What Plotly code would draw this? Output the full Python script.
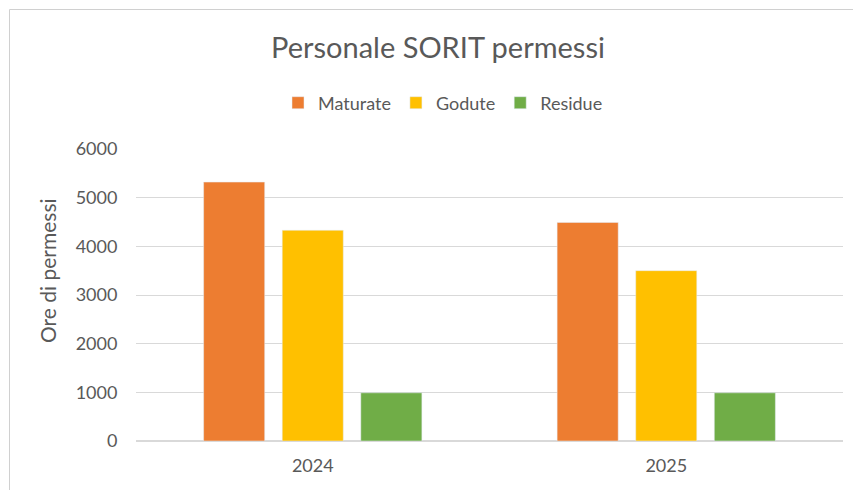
import plotly.graph_objects as go

years = ["2024", "2025"]
maturate = [5320, 4490]
godute = [4330, 3500]
residue = [990, 990]
y_ticks = [0, 1000, 2000, 3000, 4000, 5000, 6000]

# page body offset of the figure (default 8px body margin)
OFF = 8
W, H = 861, 490
# screen-pixel targets
plot_l, plot_r, plot_t, plot_b = 136, 843, 149, 441
ml = plot_l - OFF
mt = plot_t - OFF
mr = W - (plot_r - OFF)
mb = H - (plot_b - OFF)
pw = plot_r - plot_l
ph = plot_b - plot_t

def px(xs):
    return (xs - plot_l) / pw

def py(ys):
    return (plot_b - ys) / ph

FONT = "Lato, Calibri, sans-serif"
GRAY = "#595959"

fig = go.Figure()
fig.add_trace(go.Bar(name="Maturate", x=years, y=maturate, marker_color="#ED7D31"))
fig.add_trace(go.Bar(name="Godute", x=years, y=godute, marker_color="#FFC000"))
fig.add_trace(go.Bar(name="Residue", x=years, y=residue, marker_color="#70AD47"))

fig.update_layout(
    width=W, height=H,
    margin=dict(l=ml, r=mr, t=mt, b=mb),
    paper_bgcolor="white", plot_bgcolor="white",
    barmode="group", bargap=0.333, bargroupgap=0.223,
    font=dict(family=FONT, color=GRAY),
    title=dict(text="Personale SORIT permessi", x=(438 - OFF) / W, xanchor="center",
               y=1 - (48 - OFF) / H, yanchor="middle", font=dict(size=29, color=GRAY, family=FONT)),
    legend=dict(orientation="h", x=px(443), xanchor="center", y=py(103), yanchor="middle",
                font=dict(size=18, color=GRAY, family=FONT), itemwidth=30,
                traceorder="normal"),
    xaxis=dict(showgrid=False, showline=True, linecolor="#d9d9d9", linewidth=1,
               tickfont=dict(size=18, color=GRAY), ticks="outside", ticklen=8, tickcolor="white"),
    yaxis=dict(range=[0, 6000], tickvals=y_ticks, showgrid=True, gridcolor="#d9d9d9",
               gridwidth=1, zeroline=True, zerolinecolor="#d9d9d9",
               tickfont=dict(size=18, color=GRAY), ticks="outside", ticklen=14, tickcolor="white"),
    annotations=[dict(text="Ore di permessi", textangle=-90, xref="paper", yref="paper",
                      x=px(47), y=py(271), xanchor="center", yanchor="middle", showarrow=False,
                      font=dict(size=21, color=GRAY, family=FONT))],
    shapes=[dict(type="rect", xref="paper", yref="paper",
                 x0=px(9.5), x1=px(880), y0=py(505), y1=py(9.5),
                 line=dict(color="#d0d0d0", width=1), fillcolor="rgba(0,0,0,0)", layer="below")],
)

fig.write_html("out.html")
